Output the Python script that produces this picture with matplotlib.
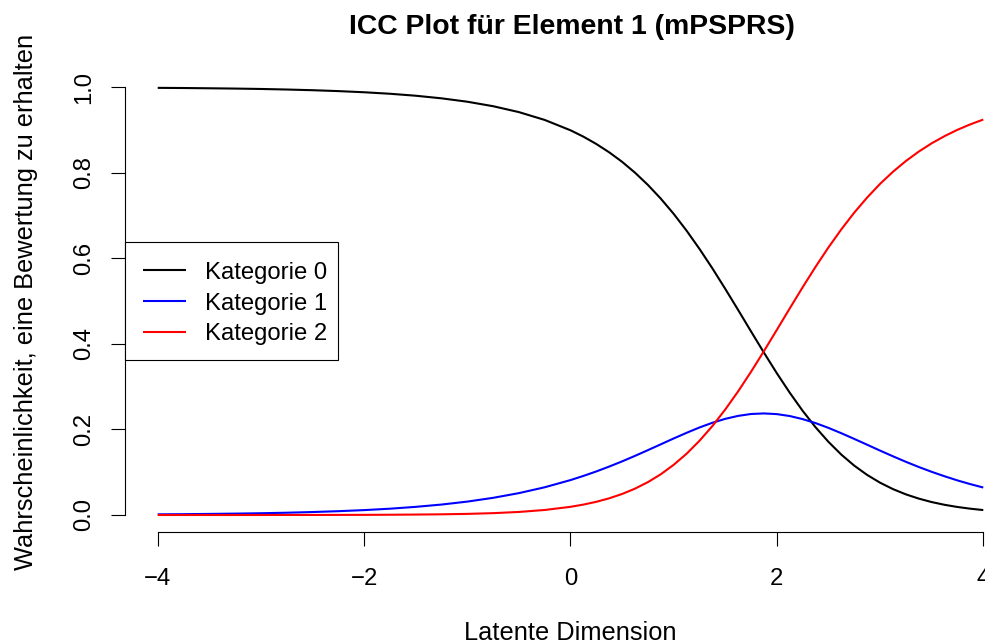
import matplotlib
matplotlib.use('Agg')
import matplotlib.pyplot as plt
from matplotlib.patches import Rectangle

theta = [-4.0, -3.75, -3.5, -3.25, -3.0, -2.75, -2.5, -2.25, -2.0, -1.75,
         -1.5, -1.25, -1.0, -0.75, -0.5, -0.25, 0.0, 0.125, 0.25, 0.375,
         0.5, 0.625, 0.75, 0.875, 1.0, 1.125, 1.25, 1.375, 1.5, 1.625,
         1.75, 1.875, 2.0, 2.125, 2.25, 2.375, 2.5, 2.625, 2.75, 2.875,
         3.0, 3.125, 3.25, 3.375, 3.5, 3.625, 3.75, 3.875, 4.0]
kat0 = [0.9985, 0.9981, 0.9975, 0.9968, 0.9959, 0.9946, 0.9930, 0.9909, 0.9882, 0.9847,
        0.9801, 0.9740, 0.9661, 0.9556, 0.9418, 0.9235, 0.8993, 0.8844, 0.8673, 0.8478,
        0.8256, 0.8002, 0.7716, 0.7395, 0.7039, 0.6646, 0.6220, 0.5765, 0.5285, 0.4791,
        0.4289, 0.3793, 0.3312, 0.2857, 0.2434, 0.2050, 0.1709, 0.1410, 0.1153, 0.0936,
        0.0755, 0.0605, 0.0482, 0.0383, 0.0302, 0.0238, 0.0187, 0.0147, 0.0115]
kat1 = [0.0015, 0.0019, 0.0025, 0.0032, 0.0041, 0.0053, 0.0069, 0.0089, 0.0114, 0.0147,
        0.0190, 0.0244, 0.0313, 0.0401, 0.0511, 0.0648, 0.0816, 0.0913, 0.1018, 0.1132,
        0.1253, 0.1382, 0.1516, 0.1652, 0.1789, 0.1921, 0.2046, 0.2156, 0.2248, 0.2317,
        0.2361, 0.2374, 0.2358, 0.2313, 0.2241, 0.2148, 0.2036, 0.1911, 0.1778, 0.1642,
        0.1505, 0.1372, 0.1243, 0.1122, 0.1009, 0.0905, 0.0808, 0.0721, 0.0642]
kat2 = [0.0000, 0.0000, 0.0000, 0.0000, 0.0000, 0.0001, 0.0001, 0.0002, 0.0003, 0.0006,
        0.0010, 0.0016, 0.0026, 0.0043, 0.0071, 0.0117, 0.0191, 0.0243, 0.0308, 0.0390,
        0.0491, 0.0616, 0.0768, 0.0952, 0.1173, 0.1432, 0.1735, 0.2079, 0.2467, 0.2892,
        0.3350, 0.3833, 0.4330, 0.4831, 0.5325, 0.5802, 0.6256, 0.6679, 0.7069, 0.7422,
        0.7741, 0.8024, 0.8275, 0.8495, 0.8689, 0.8857, 0.9005, 0.9132, 0.9244]
labels = ['Kategorie 0', 'Kategorie 1', 'Kategorie 2']
colors = ['black', 'blue', 'red']
xticks = [-4, -2, 0, 2, 4]
yticks = [0.0, 0.2, 0.4, 0.6, 0.8, 1.0]

plt.rcParams['font.family'] = ['Liberation Sans', 'DejaVu Sans']
FS = 17.2       # Achsenbeschriftung / Legende
FS_LAB = 18.3   # Achsentitel
FS_MAIN = 20.4  # Haupttitel

W, H = 985, 643
fig = plt.figure(figsize=(W / 100, H / 100), dpi=100, facecolor='white')
# R-Plotregion: x-Achse geht rechts über den Bildrand hinaus
ax = fig.add_axes([124.7 / W, 1 - 532.1 / H, (1016.3 - 124.7) / W, 462 / H])

for ys, lab, col in zip([kat0, kat1, kat2], labels, colors):
    ax.plot(theta, ys, color=col, lw=1.5, label=lab, solid_capstyle='butt')

ax.set_xlim(-4.32, 4.32)
ax.set_ylim(-0.04, 1.04)
ax.spines['top'].set_visible(False)
ax.spines['right'].set_visible(False)
ax.spines['left'].set_bounds(0, 1)
ax.spines['bottom'].set_bounds(-4, 4)
for s in ['left', 'bottom']:
    ax.spines[s].set_linewidth(0.8)

ax.set_xticks(xticks)
ax.set_xticklabels([str(v).replace('-', '\u2212') for v in xticks])
ax.set_yticks(yticks)
ax.set_yticklabels([f'{v:.1f}' for v in yticks], rotation=90, va='center')
ax.tick_params(axis='both', length=10.4, width=0.8, labelsize=FS, color='black')
ax.tick_params(axis='x', pad=15.5)
ax.tick_params(axis='y', pad=11)

fig.text(572 / W, 1 - 33.5 / H, 'ICC Plot für Element 1 (mPSPRS)',
         ha='center', va='baseline', fontsize=FS_MAIN, fontweight='bold')
fig.text(570.5 / W, 1 - 639.5 / H, 'Latente Dimension',
         ha='center', va='baseline', fontsize=FS_LAB)
fig.text(26.5 / W, 1 - 302 / H, 'Wahrscheinlichkeit, eine Bewertung zu erhalten',
         ha='center', va='center', rotation=90, fontsize=FS_LAB)

# Legendenrahmen wie in R (eigenes Rechteck, Legende selbst ohne Rahmen)
box = Rectangle((124.7 / W, 1 - 360 / H), (337.7 - 124.7) / W, (360 - 241.7) / H,
                transform=fig.transFigure, facecolor='white', edgecolor='black',
                lw=0.8, zorder=4, clip_on=False)
ax.add_patch(box)
leg = ax.legend(loc='upper left', bbox_to_anchor=(143 / W, 1 - 261.8 / H),
                bbox_transform=fig.transFigure, fontsize=FS, frameon=False,
                handlelength=1.79, handletextpad=0.8, labelspacing=0.37,
                borderpad=0, borderaxespad=0)
leg.set_zorder(5)

fig.savefig('out.png', dpi=100, facecolor='white')
